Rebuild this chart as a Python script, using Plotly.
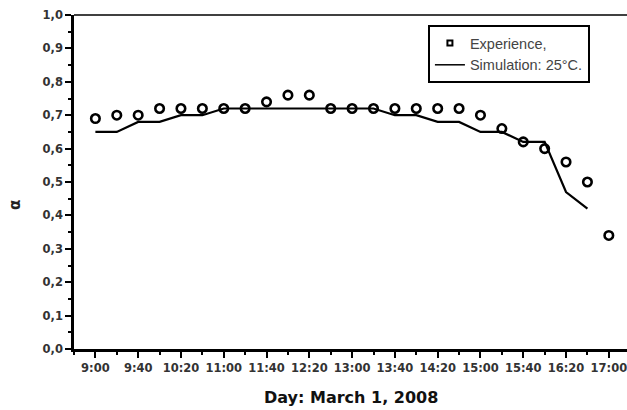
import plotly.graph_objects as go

# ---- data ----
exp_times = ["9:00", "9:20", "9:40", "10:00", "10:20", "10:40", "11:00", "11:20",
             "11:40", "12:00", "12:20", "12:40", "13:00", "13:20", "13:40", "14:00",
             "14:20", "14:40", "15:00", "15:20", "15:40", "16:00", "16:20", "16:40", "17:00"]
exp_alpha = [0.69, 0.70, 0.70, 0.72, 0.72, 0.72, 0.72, 0.72,
             0.74, 0.76, 0.76, 0.72, 0.72, 0.72, 0.72, 0.72,
             0.72, 0.72, 0.70, 0.66, 0.62, 0.60, 0.56, 0.50, 0.34]

sim_times = ["9:00", "9:20", "9:40", "10:00", "10:20", "10:40", "11:00", "11:20",
             "11:40", "12:00", "12:20", "12:40", "13:00", "13:20", "13:40", "14:00",
             "14:20", "14:40", "15:00", "15:20", "15:40", "16:00", "16:20", "16:40"]
sim_alpha = [0.65, 0.65, 0.68, 0.68, 0.70, 0.70, 0.72, 0.72,
             0.72, 0.72, 0.72, 0.72, 0.72, 0.72, 0.70, 0.70,
             0.68, 0.68, 0.65, 0.65, 0.62, 0.62, 0.47, 0.42]

x_tick_labels = ["9:00", "9:40", "10:20", "11:00", "11:40", "12:20", "13:00",
                 "13:40", "14:20", "15:00", "15:40", "16:20", "17:00"]
y_tick_vals = [0.0, 0.1, 0.2, 0.3, 0.4, 0.5, 0.6, 0.7, 0.8, 0.9, 1.0]
y_tick_labels = ["0,0", "0,1", "0,2", "0,3", "0,4", "0,5", "0,6", "0,7", "0,8", "0,9", "1,0"]


def to_min(t):
    h, m = t.split(":")
    return int(h) * 60 + int(m) - 9 * 60


exp_x = [to_min(t) for t in exp_times]
sim_x = [to_min(t) for t in sim_times]
x_tick_vals = [to_min(t) for t in x_tick_labels]

fig = go.Figure()

fig.add_trace(go.Scatter(
    x=sim_x, y=sim_alpha, mode="lines",
    line=dict(color="black", width=2.2),
    name="Simulation: 25°C.", showlegend=False, cliponaxis=False,
))
fig.add_trace(go.Scatter(
    x=exp_x, y=exp_alpha, mode="markers",
    marker=dict(symbol="circle-open", size=8.5, color="black", line=dict(width=2.6, color="black")),
    name="Experience,", showlegend=False, cliponaxis=False,
))
# legend entries
fig.add_trace(go.Scatter(
    x=[None], y=[None], mode="markers",
    marker=dict(symbol="square-open", size=5, color="black", line=dict(width=2, color="black")),
    name="Experience,",
))
fig.add_trace(go.Scatter(
    x=[None], y=[None], mode="lines",
    line=dict(color="black", width=1.5),
    name="Simulation: 25°C.",
))

tick_font = dict(family="DejaVu Sans", size=11.5, color="#333333", weight="bold")

fig.update_xaxes(
    range=[-20, 497], automargin=False, ticklabeloverflow="allow",
    tickmode="array", tickvals=x_tick_vals, ticktext=x_tick_labels,
    ticks="outside", ticklen=6, tickwidth=2, tickcolor="black",
    minor=dict(tickmode="linear", tick0=-20, dtick=20, ticks="outside",
               ticklen=3, tickwidth=2, tickcolor="black"),
    showline=True, linecolor="black", linewidth=2.5,
    showgrid=False, zeroline=False,
    tickfont=tick_font,
)
fig.update_yaxes(
    range=[0, 1.0], automargin=False, ticklabeloverflow="allow",
    tickmode="array", tickvals=y_tick_vals, ticktext=y_tick_labels,
    ticks="outside", ticklen=6, tickwidth=2, tickcolor="black",
    minor=dict(tickmode="linear", tick0=0, dtick=0.05, ticks="outside",
               ticklen=3, tickwidth=2, tickcolor="black"),
    showline=True, linecolor="black", linewidth=2.5,
    showgrid=False, zeroline=False,
    tickfont=tick_font,
)

fig.add_shape(type="line", xref="paper", yref="paper", x0=0, x1=1, y0=1, y1=1,
              line=dict(color="black", width=1.5))

fig.add_annotation(text="Day: March 1, 2008", xref="paper", yref="paper",
                   x=0.501, y=-0.144, xanchor="center", yanchor="middle", showarrow=False,
                   font=dict(family="DejaVu Sans", size=16, color="#111111", weight="bold"))
fig.add_annotation(text="α", xref="paper", yref="paper",
                   x=-0.107, y=0.431, xanchor="center", yanchor="middle", showarrow=False,
                   textangle=-90,
                   font=dict(family="DejaVu Sans", size=15, color="#222222", weight="bold"))

fig.update_layout(
    width=627, height=410,
    margin=dict(l=74, r=0, t=15, b=61, autoexpand=False),
    plot_bgcolor="white", paper_bgcolor="white",
    legend=dict(
        x=0.64, y=0.97, xanchor="left", yanchor="top",
        bordercolor="black", borderwidth=2, bgcolor="white",
        font=dict(family="Liberation Sans", size=14.5, color="#444444"),
        tracegroupgap=0, itemwidth=30,
    ),
)

fig.write_html("out.html", config={"displayModeBar": False},
               post_script="document.body.style.margin='0';document.body.style.overflow='hidden';")
